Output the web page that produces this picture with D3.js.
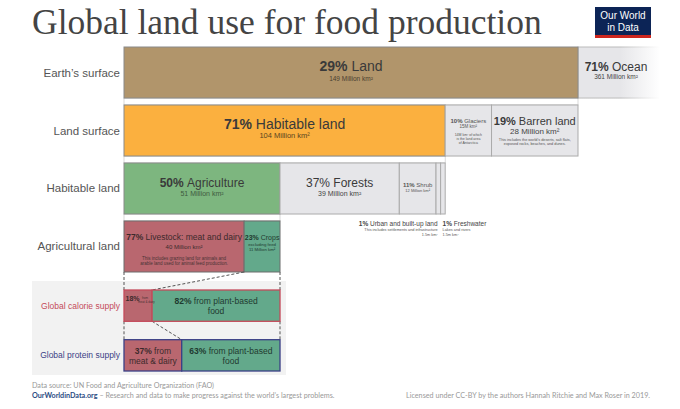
<!DOCTYPE html>
<html>
<head>
<meta charset="utf-8">
<script src="https://cdn.jsdelivr.net/npm/d3@7"></script>
<style>
  body { margin: 0; background: #fff; }
  text { font-family: "Liberation Sans", Arial, sans-serif; }
</style>
</head>
<body>
<script>
// values
const rowLabels = ["Earth\u2019s surface", "Land surface", "Habitable land", "Agricultural land"];

const earthNames = ["Land", "Ocean"];
const earthPct = [29, 71];
const earthArea = [149, 361];

const landNames = ["Habitable land", "Glaciers", "Barren land"];
const landPct = [71, 10, 19];
const landArea = [104, 15, 28];

const habNames = ["Agriculture", "Forests", "Shrub", "Urban and built-up land", "Freshwater"];
const habPct = [50, 37, 11, 1, 1];
const habArea = [51, 39, 12, 1.5, 1.5];

const agriNames = ["Livestock: meat and dairy", "Crops"];
const agriPct = [77, 23];
const agriArea = [40, 11];

const supplyLabels = ["Global calorie supply", "Global protein supply"];
const caloriePct = [18, 82];
const proteinPct = [37, 63];

const width = 680, height = 409;
const left = 124;

const svg = d3.select('body').append('svg')
  .attr('width', width)
  .attr('height', height);

const txt = '#3a3a3a';
const boxStroke = '#8a8a8a';
const lightFill = '#e6e6e9';
const lightStroke = '#ababab';
const livestockCol = '#b9676f';
const cropCol = '#63a98b';

// cumulative start positions
function stack(vals) {
  let acc = 0;
  return vals.map(v => { const s = acc; acc += v; return [s, acc]; });
}

function twoPart(g, x, y, bold, rest, size, color, anchor) {
  const t = g.append('text')
    .attr('x', x).attr('y', y)
    .attr('text-anchor', anchor || 'middle')
    .attr('font-size', size)
    .attr('fill', color || txt);
  t.append('tspan').attr('font-weight', 'bold').text(bold);
  t.append('tspan').text(rest);
  return t;
}

function small(g, x, y, s, size, anchor, color) {
  return g.append('text')
    .attr('x', x).attr('y', y)
    .attr('text-anchor', anchor || 'middle')
    .attr('font-size', size)
    .attr('fill', color || '#555')
    .text(s);
}

// title + logo
svg.append('text')
  .attr('x', 32).attr('y', 34)
  .style('font-family', '"Liberation Serif", "DejaVu Serif", serif')
  .attr('font-size', 35.5)
  .attr('fill', '#444')
  .text('Global land use for food production');

const logo = svg.append('g');
logo.append('rect').attr('x', 595).attr('y', 7).attr('width', 56).attr('height', 31).attr('fill', '#0c2456');
logo.append('rect').attr('x', 595).attr('y', 35).attr('width', 56).attr('height', 3).attr('fill', '#ce261e');
logo.append('text').attr('x', 623).attr('y', 19).attr('text-anchor', 'middle')
  .attr('font-size', 10).attr('fill', '#fff').text('Our World');
logo.append('text').attr('x', 623).attr('y', 31).attr('text-anchor', 'middle')
  .attr('font-size', 10).attr('fill', '#fff').text('in Data');

// rows
const y = d3.scaleBand().domain(rowLabels).range([47, 272]).paddingInner(0.12);
const bw = y.bandwidth();

svg.selectAll('text.rowlabel')
  .data(rowLabels)
  .enter()
  .append('text')
  .classed('rowlabel', true)
  .attr('x', 120)
  .attr('y', d => y(d) + bw / 2 + 4)
  .attr('text-anchor', 'end')
  .attr('font-size', 11.5)
  .attr('fill', '#555')
  .text(d => d);

// row scales, each row zooms into the first part of the row above
const x1 = d3.scaleLinear().domain([0, earthArea[0]]).range([left, 578]);
const x2 = d3.scaleLinear().domain([0, d3.sum(landArea)]).range([left, 578]);
const x3 = d3.scaleLinear().domain([0, d3.sum(habArea)]).range([left, x2(landArea[0])]);
const x4 = d3.scaleLinear().domain([0, 100]).range([left, x3(habArea[0])]);

// connectors between rows
const conn = [[x1(0), x1(earthArea[0]), 0], [x2(0), x2(landArea[0]), 1], [x3(0), x3(habArea[0]), 2]];
svg.selectAll('rect.conn')
  .data(conn)
  .enter()
  .append('rect')
  .classed('conn', true)
  .attr('x', d => d[0])
  .attr('width', d => d[1] - d[0])
  .attr('y', d => y(rowLabels[d[2]]) + bw)
  .attr('height', d => y(rowLabels[d[2] + 1]) - y(rowLabels[d[2]]) - bw)
  .attr('fill', '#fff')
  .attr('stroke', '#cfcfcf')
  .attr('stroke-width', 0.8);

// row 1: earth's surface
const defs = svg.append('defs');
const grad = defs.append('linearGradient').attr('id', 'oceanFade')
  .attr('gradientUnits', 'userSpaceOnUse')
  .attr('x1', 620).attr('x2', 660).attr('y1', 0).attr('y2', 0);
grad.append('stop').attr('offset', 0).attr('stop-color', lightFill);
grad.append('stop').attr('offset', 1).attr('stop-color', '#fff');
const gradS = defs.append('linearGradient').attr('id', 'oceanFadeStroke')
  .attr('gradientUnits', 'userSpaceOnUse')
  .attr('x1', 620).attr('x2', 660).attr('y1', 0).attr('y2', 0);
gradS.append('stop').attr('offset', 0).attr('stop-color', '#bbb');
gradS.append('stop').attr('offset', 1).attr('stop-color', '#fff');
defs.append('clipPath').attr('id', 'oceanClip')
  .append('rect').attr('x', 0).attr('y', 0).attr('width', 660).attr('height', height);

const r1 = y(rowLabels[0]);
const s1 = stack(earthArea);
svg.append('rect')
  .attr('clip-path', 'url(#oceanClip)')
  .attr('x', x1(s1[1][0])).attr('y', r1)
  .attr('width', x1(s1[1][1]) - x1(s1[1][0])).attr('height', bw)
  .attr('fill', 'url(#oceanFade)')
  .attr('stroke', 'url(#oceanFadeStroke)');
svg.append('rect')
  .attr('x', x1(s1[0][0])).attr('y', r1)
  .attr('width', x1(s1[0][1]) - x1(s1[0][0])).attr('height', bw)
  .attr('fill', '#b1956b')
  .attr('stroke', boxStroke);

twoPart(svg, (x1(s1[0][0]) + x1(s1[0][1])) / 2, r1 + 24, earthPct[0] + '% ', earthNames[0], 14);
small(svg, (x1(s1[0][0]) + x1(s1[0][1])) / 2, r1 + 34, earthArea[0] + ' Million km\u00b2', 6.5, 'middle', '#4a4030');
twoPart(svg, 616, r1 + 24, earthPct[1] + '% ', earthNames[1], 12);
small(svg, 616, r1 + 32, earthArea[1] + ' Million km\u00b2', 6.5, 'middle', '#444');

// row 2: land surface
const r2 = y(rowLabels[1]);
const s2 = stack(landArea);
const landFill = ['#fbb03f', lightFill, lightFill];
svg.selectAll('rect.land')
  .data(s2)
  .enter()
  .append('rect')
  .classed('land', true)
  .attr('x', d => x2(d[0]))
  .attr('y', r2)
  .attr('width', d => x2(d[1]) - x2(d[0]))
  .attr('height', bw)
  .attr('fill', (d, i) => landFill[i])
  .attr('stroke', (d, i) => i === 0 ? boxStroke : lightStroke);

const c2 = s2.map(d => (x2(d[0]) + x2(d[1])) / 2);
twoPart(svg, c2[0], r2 + 24, landPct[0] + '% ', landNames[0], 14);
small(svg, c2[0], r2 + 33, landArea[0] + ' Million km\u00b2', 7.5, 'middle', '#5a4420');
twoPart(svg, c2[1], r2 + 18, landPct[1] + '% ', landNames[1], 6, '#555');
small(svg, c2[1], r2 + 23, landArea[1] + 'M km\u00b2', 4.5);
small(svg, c2[1], r2 + 31, '14M km\u00b2 of which', 3.5);
small(svg, c2[1], r2 + 35, 'is the land area', 3.5);
small(svg, c2[1], r2 + 39, 'of Antarctica', 3.5);
twoPart(svg, c2[2], r2 + 20, landPct[2] + '% ', landNames[2], 11);
small(svg, c2[2], r2 + 29, landArea[2] + ' Million km\u00b2', 8, 'middle', '#444');
small(svg, c2[2], r2 + 36, 'This includes the world\u2019s deserts, salt flats,', 3.8);
small(svg, c2[2], r2 + 40, 'exposed rocks, beaches, and dunes.', 3.8);

// row 3: habitable land
const r3 = y(rowLabels[2]);
const s3 = stack(habArea);
svg.selectAll('rect.hab')
  .data(s3)
  .enter()
  .append('rect')
  .classed('hab', true)
  .attr('x', d => x3(d[0]))
  .attr('y', r3)
  .attr('width', d => x3(d[1]) - x3(d[0]))
  .attr('height', bw)
  .attr('fill', (d, i) => i === 0 ? '#7db67f' : lightFill)
  .attr('stroke', (d, i) => i === 0 ? boxStroke : lightStroke);

const c3 = s3.map(d => (x3(d[0]) + x3(d[1])) / 2);
twoPart(svg, c3[0], r3 + 24, habPct[0] + '% ', habNames[0], 12);
small(svg, c3[0], r3 + 33, habArea[0] + ' Million km\u00b2', 7, 'middle', '#3f5a40');
twoPart(svg, c3[1], r3 + 24, '', habPct[1] + '% ' + habNames[1], 12);
small(svg, c3[1], r3 + 33, habArea[1] + ' Million km\u00b2', 7, 'middle', '#444');
twoPart(svg, c3[2], r3 + 24, habPct[2] + '% ', habNames[2], 6, '#555');
small(svg, c3[2], r3 + 29, habArea[2] + ' Million km\u00b2', 4);

// urban + freshwater labels under the thin slivers
twoPart(svg, x3(s3[3][1]) - 3, r3 + bw + 12, habPct[3] + '% ', habNames[3], 6.5, '#444', 'end');
small(svg, x3(s3[3][1]) - 3, r3 + bw + 17, 'This includes settlements and infrastructure', 3.8, 'end');
small(svg, x3(s3[3][1]) - 3, r3 + bw + 22, habArea[3] + 'm km\u00b2', 3.8, 'end');
twoPart(svg, x3(s3[4][0]) + 2, r3 + bw + 12, habPct[4] + '% ', habNames[4], 6.5, '#444', 'start');
small(svg, x3(s3[4][0]) + 2, r3 + bw + 17, 'Lakes and rivers', 3.8, 'start');
small(svg, x3(s3[4][0]) + 2, r3 + bw + 22, habArea[4] + 'm km\u00b2', 3.8, 'start');

// grey panel behind the supply rows
svg.append('rect')
  .attr('x', 32).attr('y', 281).attr('width', 254).attr('height', 94)
  .attr('fill', '#f2f2f2');

// row 4: agricultural land
const r4 = y(rowLabels[3]);
const s4 = stack(agriPct);
svg.selectAll('rect.agri')
  .data(s4)
  .enter()
  .append('rect')
  .classed('agri', true)
  .attr('x', d => x4(d[0]))
  .attr('y', r4)
  .attr('width', d => x4(d[1]) - x4(d[0]))
  .attr('height', bw)
  .attr('fill', (d, i) => i === 0 ? livestockCol : cropCol)
  .attr('stroke', '#6d6d6d');

const c4 = s4.map(d => (x4(d[0]) + x4(d[1])) / 2);
twoPart(svg, c4[0], r4 + 19, agriPct[0] + '% ', agriNames[0], 8.5, '#3c2a2c');
small(svg, c4[0], r4 + 28, agriArea[0] + ' Million km\u00b2', 6, 'middle', '#3c2a2c');
small(svg, c4[0], r4 + 39, 'This includes grazing land for animals and', 4.5, 'middle', '#4a3335');
small(svg, c4[0], r4 + 44, 'arable land used for animal feed production.', 4.5, 'middle', '#4a3335');
twoPart(svg, c4[1], r4 + 19, agriPct[1] + '% ', agriNames[1], 7, '#1f3a30');
small(svg, c4[1], r4 + 25, 'excluding feed', 4.3, 'middle', '#1f3a30');
small(svg, c4[1], r4 + 30, agriArea[1] + ' Million km\u00b2', 4.3, 'middle', '#1f3a30');

// supply rows
const ys = d3.scaleBand().domain(supplyLabels).range([290, 371]).paddingInner(0.37);
const sb = ys.bandwidth();
const supplyCols = ['#c44a5a', '#3b3f86'];
const supplyData = [stack(caloriePct), stack(proteinPct)];

svg.selectAll('text.supplylabel')
  .data(supplyLabels)
  .enter()
  .append('text')
  .classed('supplylabel', true)
  .attr('x', 120)
  .attr('y', d => ys(d) + sb / 2 + 3)
  .attr('text-anchor', 'end')
  .attr('font-size', 8.5)
  .attr('fill', (d, i) => supplyCols[i])
  .text(d => d);

// dashed guides
const dash = svg.append('g')
  .attr('stroke', '#555')
  .attr('stroke-width', 1)
  .attr('stroke-dasharray', '3,2')
  .attr('fill', 'none');
const guideTops = [r4 + bw, ys(supplyLabels[0]) + sb];
const guideBots = [ys(supplyLabels[0]), ys(supplyLabels[1])];
const guideFrom = [x4(s4[0][1]), x4(supplyData[0][0][1])];
const guideTo = [x4(supplyData[0][0][1]), x4(supplyData[1][0][1])];
guideTops.forEach((t, i) => {
  dash.append('line').attr('x1', x4(0)).attr('x2', x4(0)).attr('y1', t).attr('y2', guideBots[i]);
  dash.append('line').attr('x1', x4(100)).attr('x2', x4(100)).attr('y1', t).attr('y2', guideBots[i]);
  dash.append('line').attr('x1', guideFrom[i]).attr('x2', guideTo[i]).attr('y1', t).attr('y2', guideBots[i]);
});

supplyLabels.forEach((lab, k) => {
  const g = svg.append('g');
  g.selectAll('rect')
    .data(supplyData[k])
    .enter()
    .append('rect')
    .attr('x', d => x4(d[0]))
    .attr('y', ys(lab))
    .attr('width', d => x4(d[1]) - x4(d[0]))
    .attr('height', sb)
    .attr('fill', (d, i) => i === 0 ? livestockCol : cropCol)
    .attr('stroke', supplyCols[k])
    .attr('stroke-width', 1.3);
});

const yc = ys(supplyLabels[0]);
const sc = supplyData[0].map(d => (x4(d[0]) + x4(d[1])) / 2);
twoPart(svg, x4(0) + 1.5, yc + 11, caloriePct[0] + '%', '', 7, '#3c2a2c', 'start');
small(svg, x4(0) + 18, yc + 9, 'from', 3, 'start', '#4a3335');
small(svg, x4(0) + 14, yc + 12.5, 'meat & dairy', 3, 'start', '#4a3335');
twoPart(svg, sc[1], yc + 14, caloriePct[1] + '% ', 'from plant-based', 8.5, '#1f3a30');
small(svg, sc[1], yc + 24, 'food', 8.5, 'middle', '#1f3a30');

const yp = ys(supplyLabels[1]);
const sp = supplyData[1].map(d => (x4(d[0]) + x4(d[1])) / 2);
twoPart(svg, sp[0], yp + 14, proteinPct[0] + '% ', 'from', 8.5, '#3c2a2c');
small(svg, sp[0], yp + 24, 'meat & dairy', 8.5, 'middle', '#3c2a2c');
twoPart(svg, sp[1], yp + 14, proteinPct[1] + '% ', 'from plant-based', 8.5, '#1f3a30');
small(svg, sp[1], yp + 24, 'food', 8.5, 'middle', '#1f3a30');

// footer
const foot = svg.append('g').style('font-family', 'Lato, sans-serif');
foot.append('text').attr('x', 32).attr('y', 388).attr('font-size', 7.2).attr('fill', '#999')
  .style('font-family', 'Lato, sans-serif')
  .text('Data source: UN Food and Agriculture Organization (FAO)');
const f2 = foot.append('text').attr('x', 32).attr('y', 398).attr('font-size', 7.2).attr('fill', '#999')
  .style('font-family', 'Lato, sans-serif');
f2.append('tspan').attr('fill', '#2b4c82').attr('font-weight', 'bold').text('OurWorldinData.org');
f2.append('tspan').text(' \u2013 Research and data to make progress against the world\u2019s largest problems.');
foot.append('text').attr('x', 650).attr('y', 398).attr('font-size', 7.2).attr('fill', '#999')
  .attr('text-anchor', 'end')
  .style('font-family', 'Lato, sans-serif')
  .text('Licensed under CC-BY by the authors Hannah Ritchie and Max Roser in 2019.');
</script>
</body>
</html>
